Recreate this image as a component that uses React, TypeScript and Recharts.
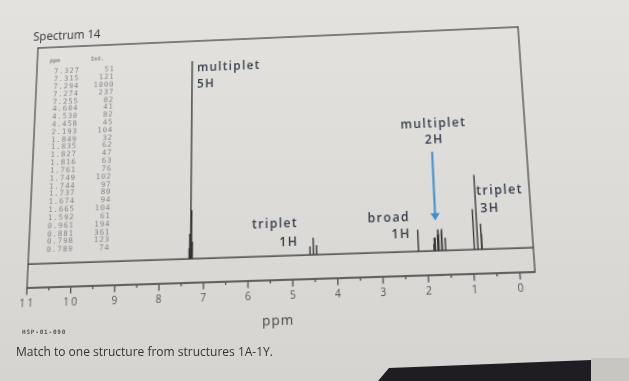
import React from "react";
import { LineChart, Line, XAxis, YAxis, ReferenceArea, ReferenceDot, ReferenceLine } from "recharts";

// peak list as printed on the sheet
const peakPpm = [7.327, 7.315, 7.294, 7.274, 7.255, 4.604, 4.53, 4.458, 2.193, 1.849, 1.835, 1.827, 1.816, 1.761, 1.749, 1.744, 1.737, 1.674, 1.665, 1.592, 0.961, 0.881, 0.798, 0.789];
const peakInt = [51, 121, 1000, 237, 82, 41, 82, 45, 104, 32, 62, 47, 63, 76, 102, 97, 80, 94, 104, 61, 194, 361, 123, 74];

const ppmTicks = [11, 10.5, 10, 9.5, 9, 8.5, 8, 7.5, 7, 6.5, 6, 5.5, 5, 4.5, 4, 3.5, 3, 2.5, 2, 1.5, 1, 0.5, 0];

// hand-written annotations
const noteText = ["multiplet", "5H", "triplet", "1H", "broad", "1H", "multiplet", "2H", "triplet", "3H"];
const notePpm = [7.18, 7.18, 4.86, 4.86, 2.35, 2.35, 1.73, 1.73, 0.85, 0.78];
const noteLevel = [942, 858, 136, 45, 148, 68, 606, 523, 265, 177];
const noteAnchor = ["start", "start", "end", "end", "end", "end", "middle", "middle", "start", "start"];

const PPM_MIN = -0.33;
const PPM_MAX = 11;
const Y_MIN = -116;
const Y_MAX = 1106;

const spectrum = [
  { ppm: PPM_MAX, y: 0 },
  ...peakPpm.flatMap((p, i) => [
    { ppm: p, y: 0 },
    { ppm: p, y: peakInt[i] },
    { ppm: p, y: 0 },
  ]),
  { ppm: PPM_MIN, y: 0 },
];

const ink = "#5a5a5a";
const noteColor = "#353b47";

// the sheet was photographed at an angle: map the flat frame onto the photo's quad
function homography(src: number[][], dst: number[][]) {
  const A: number[][] = [];
  const b: number[] = [];
  for (let i = 0; i < 4; i++) {
    const [x, y] = src[i];
    const [X, Y] = dst[i];
    A.push([x, y, 1, 0, 0, 0, -x * X, -y * X]);
    b.push(X);
    A.push([0, 0, 0, x, y, 1, -x * Y, -y * Y]);
    b.push(Y);
  }
  for (let c = 0; c < 8; c++) {
    let p = c;
    for (let r = c + 1; r < 8; r++) if (Math.abs(A[r][c]) > Math.abs(A[p][c])) p = r;
    [A[c], A[p]] = [A[p], A[c]];
    [b[c], b[p]] = [b[p], b[c]];
    for (let r = 0; r < 8; r++) {
      if (r === c) continue;
      const f = A[r][c] / A[c][c];
      for (let k = c; k < 8; k++) A[r][k] -= f * A[c][k];
      b[r] -= f * b[c];
    }
  }
  const [a, bb, c, d, e, f, g, h] = b.map((v, i) => v / A[i][i]);
  return `matrix3d(${a},${d},0,${g},${bb},${e},0,${h},0,0,1,0,${c},${f},0,1)`;
}

const paperTransform = homography(
  [[32, 38], [527, 38], [527, 280], [32, 280]],
  [[38, 48], [518, 27], [535, 272], [27, 288]]
);

function PpmTick(props: any) {
  const { x, y, payload } = props;
  const v = payload.value;
  const major = Number.isInteger(v);
  return (
    <g>
      <line x1={x} x2={x} y1={y} y2={y + (major ? 6.5 : 3)} stroke={ink} strokeWidth={1.4} />
      {major && (
        <text x={x + 1} y={y + 18.5} textAnchor="middle" fontSize={10} letterSpacing={2.2} fill="#555" fontFamily="Open Sans">
          {v}
        </text>
      )}
    </g>
  );
}

export default function App() {
  return (
    <div
      style={{
        position: "absolute",
        left: 0,
        top: 0,
        width: 629,
        height: 381,
        overflow: "hidden",
        background: "linear-gradient(180deg, #e3e2df 0%, #dbdad7 60%, #d5d4d0 100%)",
        fontFamily: "Open Sans",
      }}
    >
      <div style={{ position: "absolute", left: 0, top: 0, width: 629, height: 381, transform: paperTransform, transformOrigin: "0 0" }}>
        <div style={{ position: "absolute", left: 26.5, top: 16.5, fontSize: 12, color: "#333" }}>Spectrum 14</div>
        <LineChart width={629} height={381} data={spectrum} margin={{ top: 38, right: 102, bottom: 71, left: 32 }}>
          <XAxis
            type="number"
            dataKey="ppm"
            domain={[PPM_MIN, PPM_MAX]}
            reversed
            allowDataOverflow
            ticks={ppmTicks}
            interval={0}
            tick={<PpmTick />}
            tickLine={false}
            tickSize={0}
            tickMargin={0}
            height={30}
            axisLine={{ stroke: ink, strokeWidth: 1.4 }}
            label={{ value: "ppm", position: "insideBottom", offset: -12, fontSize: 13, letterSpacing: 1, fill: "#444", fontFamily: "Open Sans" }}
          />
          <YAxis hide domain={[Y_MIN, Y_MAX]} allowDataOverflow />
          <ReferenceArea x1={PPM_MIN} x2={PPM_MAX} y1={Y_MIN} y2={Y_MAX} fill="none" stroke={ink} strokeWidth={1.4} />
          <Line type="linear" dataKey="y" stroke="#333" strokeWidth={1.3} dot={false} isAnimationActive={false} />
          <ReferenceLine segment={[{ x: 1.79, y: 484 }, { x: 1.79, y: 170 }]} stroke="#3d8fd0" strokeWidth={2} />
          <ReferenceDot
            x={1.79}
            y={145}
            r={0}
            shape={(p: any) => (
              <path d={`M${p.cx},${p.cy} L${p.cx - 4.5},${p.cy - 7} L${p.cx + 4.5},${p.cy - 7} Z`} fill="#3d8fd0" />
            )}
          />
          {noteText.map((t, i) => (
            <ReferenceDot
              key={i}
              x={notePpm[i]}
              y={noteLevel[i]}
              r={0}
              shape={(p: any) => (
                <text x={p.cx} y={p.cy} textAnchor={noteAnchor[i]} fontSize={12} fontWeight={600} letterSpacing={1.4} fill={noteColor} fontFamily="Open Sans">
                  {t}
                </text>
              )}
            />
          ))}
        </LineChart>
        <div style={{ position: "absolute", left: 45, top: 48, fontFamily: "DejaVu Sans Mono", fontWeight: "bold", fontSize: 6, color: "#8a8a8a" }}>ppm</div>
        <div style={{ position: "absolute", left: 88, top: 48, fontFamily: "DejaVu Sans Mono", fontWeight: "bold", fontSize: 6, color: "#8a8a8a" }}>Int.</div>
        <div style={{ position: "absolute", left: 42, top: 60.2, fontFamily: "DejaVu Sans Mono", fontSize: 7.5, color: "#888", letterSpacing: 0.9 }}>
          {peakPpm.map((p, i) => (
            <div key={i} style={{ display: "flex", height: 7.83, lineHeight: "7.83px" }}>
              <span style={{ width: 35, textAlign: "right" }}>{p.toFixed(3)}</span>
              <span style={{ width: 36.5, textAlign: "right" }}>{peakInt[i]}</span>
            </div>
          ))}
        </div>
      </div>
      <div style={{ position: "absolute", left: 22, top: 328, fontFamily: "DejaVu Sans Mono", fontWeight: "bold", fontSize: 6, letterSpacing: 0.8, color: "#555" }}>
        HSP-01-090
      </div>
      <div style={{ position: "absolute", left: 16, top: 343, fontSize: 12, color: "#333" }}>
        Match to one structure from structures 1A-1Y.
      </div>
      <svg width={629} height={381} style={{ position: "absolute", left: 0, top: 0 }}>
        <polygon points="591,358 629,358 629,381 591,381" fill="#c8c6c1" />
        <polygon points="378,381 389,368 591,360 591,381" fill="#1f1d22" />
      </svg>
    </div>
  );
}
